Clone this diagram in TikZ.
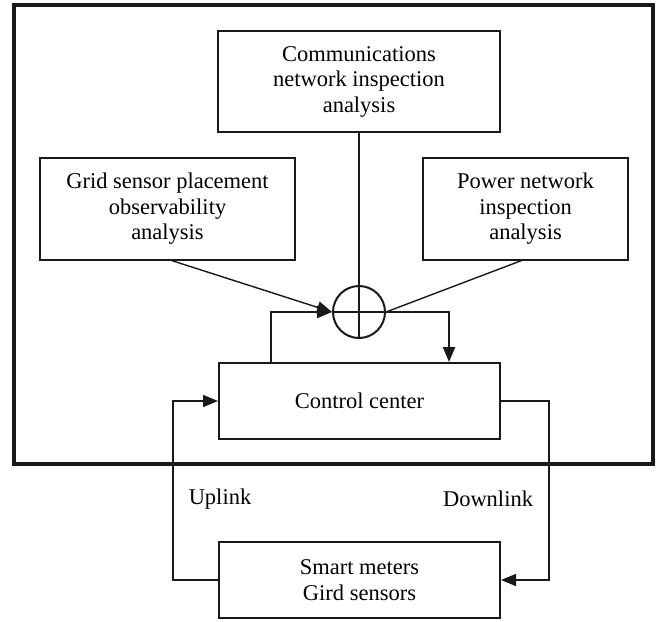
\documentclass[tikz,border=0pt]{standalone}
\usepackage{fontspec}
\setmainfont{Liberation Serif}
\usetikzlibrary{arrows.meta}
\begin{document}
\begin{tikzpicture}[x=1pt,y=-1pt,
  box/.style={draw=black!90,line width=2pt,minimum width=#1,align=center,inner sep=0pt,font=\fontsize{22.5}{25.5}\selectfont},
  wire/.style={draw=black!90,line width=1.4pt},
  fb/.style={draw=black!90,line width=2.4pt},
  tip/.style={-{Triangle[length=15pt,width=12pt]}},
  lbl/.style={font=\fontsize{22.5}{25.5}\selectfont}]
\useasboundingbox (0,0) rectangle (671,621);
\draw[line width=4.2pt,draw=black!90] (14,5) rectangle (653,464);
\node[box=282pt,minimum height=101pt] (comm) at (359,81.5) {Communications\\network inspection\\analysis};
\node[box=255pt,minimum height=102pt] (grid) at (167.5,209) {Grid sensor placement\\observability\\analysis};
\node[box=205pt,minimum height=102pt] (power) at (525.5,209) {Power network\\inspection\\analysis};
\node[draw=black!90,line width=2pt,circle,minimum size=52pt,inner sep=0pt] (sum) at (359,312) {};
\node[box=281pt,minimum height=76pt] (ctrl) at (359.5,401) {Control center};
\node[box=281pt,minimum height=76pt] (meter) at (359.5,580) {Smart meters\\Gird sensors};
% plus inside summing junction
\draw[wire] (comm.south) -- (sum.south);
\draw[wire] (sum.west) -- (sum.east);
% inputs
\coordinate (g1) at (170,260);
\coordinate (p1) at (523,260);
\draw[wire,tip] (g1) -- (sum.west);
\draw[wire] (p1) -- (sum.east);
% feedback
\draw[fb,tip] (ctrl.north -| 271,0) -- (271,312) -- (sum.west);
\draw[fb,tip] (sum.east) -- (449,312) -- (ctrl.north -| 449,0);
% uplink / downlink
\draw[wire,tip] (meter.west) -- (173,580) -- (173,401) -- (ctrl.west);
\draw[wire,tip] (ctrl.east) -- (549,401) -- (549,580) -- (meter.east);
\node[lbl] (up) at (220,499) {Uplink};
\node[lbl] (down) at (488,499) {Downlink};
\end{tikzpicture}
\end{document}
